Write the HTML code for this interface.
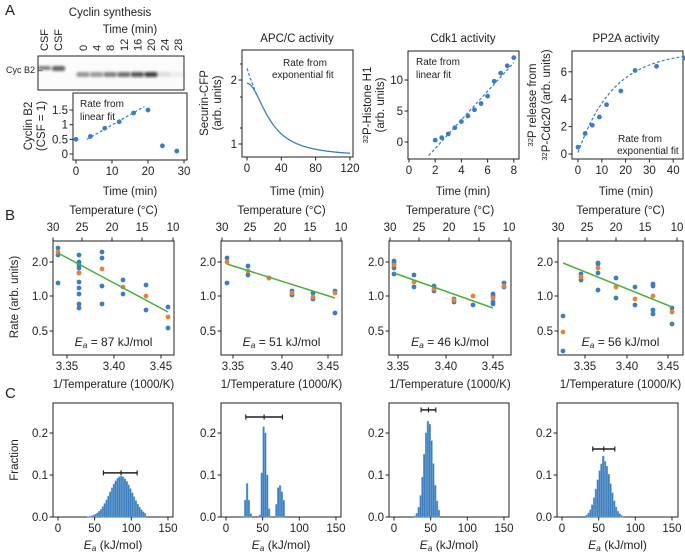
<!DOCTYPE html>
<html><head><meta charset="utf-8">
<style>
html,body{margin:0;padding:0;background:#fff;}
svg{display:block;font-family:"Liberation Sans",sans-serif;}
</style></head>
<body>
<svg id="s" width="685" height="554" viewBox="0 0 685 554" xmlns="http://www.w3.org/2000/svg">
<defs><filter id="bl" x="-50%" y="-50%" width="200%" height="200%"><feGaussianBlur stdDeviation="1.3"/></filter></defs>
</svg>
<script>
const S=document.getElementById('s');
const NS='http://www.w3.org/2000/svg';
const FS=11.5;
function el(t,a,txt){const e=document.createElementNS(NS,t);for(const k in a)e.setAttribute(k,a[k]);if(txt!==undefined)e.textContent=txt;S.appendChild(e);return e;}
function tx(x,y,s,o={}){return el('text',Object.assign({x:x,y:y,'font-size':o.fs||FS,'text-anchor':o.a||'middle',fill:'#222'},o.extra||{}),s);}
function line(x1,y1,x2,y2,c='#222',w=1,d){const a={x1,y1,x2,y2,stroke:c,'stroke-width':w};if(d)a['stroke-dasharray']=d;return el('line',a);}
function box(x1,y1,x2,y2){el('rect',{x:x1,y:y1,width:x2-x1,height:y2-y1,fill:'none',stroke:'#222','stroke-width':1});}
function dot(x,y,c){el('circle',{cx:x,cy:y,r:2.4,fill:c});}
const BL='#3b7dbf',OR='#e8823a',GR='#4cae3c';
function xt(x,yb,lab){line(x,yb,x,yb+3.5);tx(x,yb+15,lab);}
function yt(xl,y,lab){line(xl-3.5,y,xl,y);tx(xl-5,y+4,lab,{a:'end'});}
function rot(x,y,s,fs){el('text',{x:x,y:y,'font-size':fs||FS,'text-anchor':'middle',fill:'#222',transform:`rotate(-90 ${x} ${y})`},s);}
tx(5,15,'A',{a:'start',fs:15});tx(5,220,'B',{a:'start',fs:15});tx(5,398,'C',{a:'start',fs:15});

// ---- Cyclin synthesis ----
tx(110,16,'Cyclin synthesis');
tx(130,33,'Time (min)');
el('rect',{x:38,y:56,width:146,height:34,fill:'#fbfbfb',stroke:'#222','stroke-width':1});
[['CSF',44],['CSF',58]].forEach(([l,x])=>el('text',{x:x+4,y:51,'font-size':11,fill:'#222',transform:`rotate(-90 ${x+4} 51)`},l));
const lanes=[0,4,8,12,16,20,24,28];
const inten=[0.4,0.38,0.48,0.55,0.7,0.8,0.12,0.06];
lanes.forEach((t,i)=>{const x=83+i*13.6;el('text',{x:x+4,y:51,'font-size':11,fill:'#222',transform:`rotate(-90 ${x+4} 51)`},String(t));
 el('rect',{x:x-6.5,y:72,width:13,height:5,rx:2,fill:`rgba(10,10,10,${inten[i]})`,filter:'url(#bl)'});});
el('rect',{x:38,y:66,width:13,height:4,rx:2,fill:'rgba(10,10,10,0.5)',filter:'url(#bl)'});
el('rect',{x:52,y:66,width:13,height:5,rx:2,fill:'rgba(10,10,10,0.6)',filter:'url(#bl)'});
tx(6,73,'Cyc B2 –',{a:'start',fs:9});
(function(){const X=t=>76+t*3.6,Y=v=>154-v*29.3;box(73,93,187,160);
[0,10,20,30].forEach(v=>xt(X(v),160,v));[[0,'0'],[0.5,'0.5'],[1,'1'],[1.5,'1.5']].forEach(([v,l])=>yt(73,Y(v),l));
tx(130,195,'Time (min)');rot(32,126,'Cyclin B2');rot(45,126,'(CSF = 1)');
line(X(3),Y(0.5),X(19),Y(1.62),BL,1.2,'3,2');
[[0,.5],[4,.6],[8,.88],[12,1.1],[16,1.4],[20,1.5],[24,.28],[28,.1]].forEach(([a,b])=>dot(X(a),Y(b),BL));
tx(80,107,'Rate from',{a:'start',fs:10});tx(80,120,'linear fit',{a:'start',fs:10});})();

// ---- APC/C ----
(function(){const X=t=>247+t*0.858,Y=v=>144-92.3*Math.log(v);box(242,50,353,157);
tx(297,42,'APC/C activity');
[0,40,80,120].forEach(v=>xt(X(v),157,v));yt(242,Y(2),'2');yt(242,Y(1),'1');
[64,97,128].forEach(y=>line(240,y,242,y));
tx(297,195,'Time (min)');rot(208,103,'Securin-CFP');rot(221,103,'(arb. units)');
let p='';for(let t=0;t<=120;t+=1){const v=0.87+1.06/(1+Math.pow(t/22,2));p+=(t?'L':'M')+X(t).toFixed(1)+' '+Y(v).toFixed(1);}
el('path',{d:p,fill:'none',stroke:BL,'stroke-width':1.3});
p='';for(let t=0;t<=11;t+=1){const v=0.87+1.4*Math.exp(-t/22);p+=(t?'L':'M')+X(t).toFixed(1)+' '+Y(v).toFixed(1);}
el('path',{d:p,fill:'none',stroke:BL,'stroke-width':1.2,'stroke-dasharray':'3,2'});
tx(283,66,'Rate from',{a:'start',fs:10});tx(272,78,'exponential fit',{a:'start',fs:10});})();

// ---- Cdk1 ----
(function(){const X=t=>409+t*13.1,Y=v=>142-v*6.2;box(408,51,519,159);
tx(463,42,'Cdk1 activity');
[0,2,4,6,8].forEach(v=>xt(X(v),159,v));[0,5,10].forEach(v=>yt(408,Y(v),v));
tx(463,195,'Time (min)');
el('text',{x:371,y:105,'font-size':FS,'text-anchor':'middle',fill:'#222',transform:'rotate(-90 371 105)'}).innerHTML='<tspan font-size="7.5" dy="-3">32</tspan><tspan dy="3">P-Histone H1</tspan>';
rot(384,105,'(arb. units)');
line(X(1.5),Y(-2.2),X(8),Y(12.8),BL,1.2,'3,2');
[[2,.3],[2.5,.7],[3,1.3],[3.5,2.3],[4,3.3],[4.5,4.2],[5,5.2],[5.5,6.2],[6,7.4],[6.5,9.8],[7,11.1],[7.5,12.3],[8,13.6]].forEach(([a,b])=>dot(X(a),Y(b),BL));
tx(416,65,'Rate from',{a:'start',fs:10});tx(416,78,'linear fit',{a:'start',fs:10});})();

// ---- PP2A ----
(function(){const X=t=>578+t*2.38,Y=v=>154-v*13.7;box(572,51,683,159);
tx(626,42,'PP2A activity');
[0,10,20,30,40].forEach(v=>xt(X(v),159,v));[0,2,4,6].forEach(v=>yt(572,Y(v),v));
tx(626,195,'Time (min)');
el('text',{x:536,y:105,'font-size':FS,'text-anchor':'middle',fill:'#222',transform:'rotate(-90 536 105)'}).innerHTML='<tspan font-size="7.5" dy="-3">32</tspan><tspan dy="3">P release from</tspan>';
el('text',{x:550,y:105,'font-size':FS,'text-anchor':'middle',fill:'#222',transform:'rotate(-90 550 105)'}).innerHTML='<tspan font-size="7.5" dy="-3">32</tspan><tspan dy="3">P-Cdc20 (arb. units)</tspan>';
let p='';for(let t=0;t<=45;t+=1){const v=0.1+7.4*(1-Math.exp(-t/15));p+=(t?'L':'M')+X(t).toFixed(1)+' '+Y(v).toFixed(1);}
el('path',{d:p,fill:'none',stroke:BL,'stroke-width':1.2,'stroke-dasharray':'3,2'});
[[0,.5],[3,1.5],[6,2.1],[9,2.7],[12,3.6],[18,4.6],[24,6.1],[33,6.4],[45,7.0]].forEach(([a,b])=>dot(X(a),Y(b),BL));
tx(618,142,'Rate from',{a:'start',fs:10});tx(617,154,'exponential fit',{a:'start',fs:10});})();

// ---- Panel B ----
const B=[
 {L:53,R:174,bt:[67,114,161],tt:[53,82,112,142,173],ea:'87',
  pts:[[58,[248,255,283],252],[79,[255,262,265,268,273,282,288,294,304,308],273],[102,[252,258,286,304],269],[123,[280,294],287],[146,[285,310],296],[168,[307,328],317]],
  ln:[58,253,168,312]},
 {L:221,R:342,bt:[233,282,328],tt:[222,250,280,310,341],ea:'51',
  pts:[[227,[258,283],262],[248,[266,275],271],[269,[278],278],[292,[291,295],293],[313,[293,299],297],[335,[291,313],293]],
  ln:[227,264,335,298]},
 {L:389,R:511,bt:[398,446,493],tt:[390,419,449,479,509],ea:'46',
  pts:[[394,[261,263,268,274],265],[414,[275,287],282],[434,[286,291],289],[454,[299,302],300],[473,[305],296],[493,[294,296,302,304],298],[504,[283,287],286]],
  ln:[394,273,493,308]},
 {L:558,R:683,bt:[585,627,668],tt:[558,587,616,645,677],ea:'56',
  pts:[[563,[316,351],332],[581,[274,277,280],277],[598,[263,264,273,290],268],[616,[278,287,298],287],[635,[287,305],299],[653,[284,286,310,314],296],[672,[308,312,324],312]],
  ln:[563,263,672,307]}
];
B.forEach((b,i)=>{const T=241,Bo=355;box(b.L,T,b.R,Bo);const cx=(b.L+b.R)/2;
 tx(cx,214,'Temperature (°C)');
 ['30','25','20','15','10'].forEach((l,j)=>{line(b.tt[j],T,b.tt[j],T-3.5);tx(b.tt[j],231,l);});
 ['3.35','3.40','3.45'].forEach((l,j)=>xt(b.bt[j],Bo,l));
 [[262,'2.0'],[296,'1.0'],[331,'0.5']].forEach(([y,l])=>yt(b.L,y,l));
 tx(cx,388,'1/Temperature (1000/K)');
 b.pts.forEach(([x,bs,o])=>{bs.forEach(y=>dot(x,y,BL));dot(x,o,OR);});
 line(b.ln[0],b.ln[1],b.ln[2],b.ln[3],GR,1.5);
 el('text',{x:cx,y:346,'font-size':12,'text-anchor':'middle',fill:'#222'}).innerHTML=`<tspan font-style="italic">E</tspan><tspan font-style="italic" font-size="8.5" dy="2">a</tspan><tspan dy="-2"> = ${b.ea} kJ/mol</tspan>`;
});
rot(18,297,'Rate (arb. units)');

// ---- Panel C ----
function gauss(c,sd,pk,lo,hi,w){const r=[];for(let x=lo;x<hi;x+=w){const m=x+w/2;r.push([x,pk*Math.exp(-0.5*Math.pow((m-c)/sd,2))]);}return r;}
const C=[
 {L:53,R:173,bins:gauss(86,15,0.097,32.5,120,2.5),eb:[62,86,108,0.105]},
 {L:221,R:341,bins:[[25,.04],[27.5,.08],[30,.04],[32.5,.008],[45,.005],[47.5,.105],[50,.215],[52.5,.2],[55,.1],[57.5,.02],[67.5,.03],[70,.07],[72.5,.075],[75,.06],[77.5,.04]],eb:[27,52,77,0.238]},
 {L:389,R:509,bins:gauss(47,6.2,0.23,27.5,62.5,2.5),eb:[37,47,57,0.255]},
 {L:557,R:678,bins:gauss(57,9,0.135,32.5,87.5,2.5).map(([x,v])=>x===55?[x,0.145]:[x,v]),eb:[42,57,72,0.162]}
];
C.forEach(c=>{const T=403,Bo=517,X=v=>c.L+5+v*0.733,Y=v=>Bo-v*420;box(c.L,T,c.R,Bo);
 c.bins.forEach(([x,v])=>{if(v<0.001)return;el('rect',{x:X(x),y:Y(v),width:0.733*2.5,height:Bo-Y(v),fill:'#3d7ebd',stroke:'#7fb0dc','stroke-width':0.4});});
 [0,50,100,150].forEach(v=>xt(X(v),Bo,v));
 [[0,'0.0'],[0.1,'0.1'],[0.2,'0.2']].forEach(([v,l])=>yt(c.L,Y(v),l));
 const [a,m,bb,h]=c.eb;line(X(a),Y(h),X(bb),Y(h),'#222',1.5);[a,m,bb].forEach(v=>line(X(v),Y(h)-2.5,X(v),Y(h)+2.5,'#222',1.2));
 el('text',{x:(c.L+c.R)/2,y:549,'font-size':12,'text-anchor':'middle',fill:'#222'}).innerHTML='<tspan font-style="italic">E</tspan><tspan font-style="italic" font-size="8.5" dy="2">a</tspan><tspan dy="-2"> (kJ/mol)</tspan>';
});
rot(18,460,'Fraction');
</script>
</body></html>
